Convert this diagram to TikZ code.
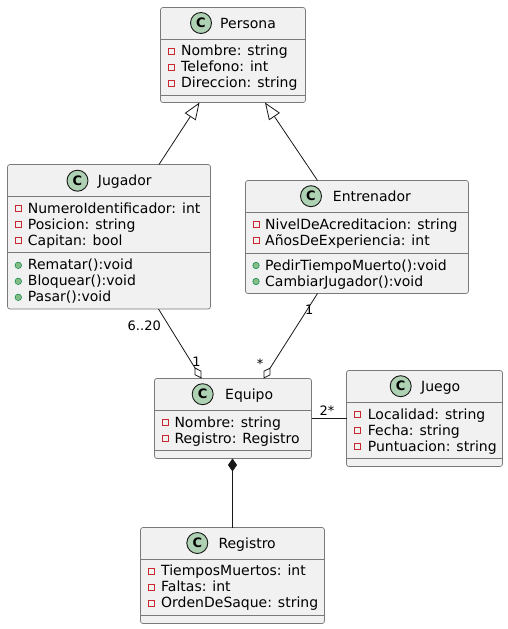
\documentclass[tikz,border=0pt]{standalone}
\usepackage{fontspec}
\setmainfont{DejaVu Sans}
\usetikzlibrary{arrows.meta}
\definecolor{boxfill}{HTML}{F1F1F1}
\definecolor{boxline}{HTML}{181818}
\definecolor{boxedge}{HTML}{7A7A7A}
\definecolor{cfill}{HTML}{ADD1B2}
\definecolor{privred}{HTML}{C82930}
\definecolor{pubfill}{HTML}{84BE84}
\definecolor{publine}{HTML}{038048}
\begin{document}
\begin{tikzpicture}[x=1pt,y=-1pt,
 cls/.style={draw=boxedge, fill=boxfill, line width=0.7pt, rounded corners=2.5pt, anchor=north west, inner sep=0pt, outer sep=0pt},
 sep/.style={draw=boxedge, line width=0.7pt},
 ctitle/.style={anchor=base west, inner sep=0pt, font=\fontsize{14}{16}\selectfont},
 mem/.style={anchor=base west, inner sep=0pt, font=\fontsize{14}{16}\selectfont},
 cicon/.style={circle, draw=boxline, fill=cfill, line width=0.9pt, minimum size=21pt, inner sep=0pt, font=\fontsize{13}{13}\selectfont\bfseries},
 priv/.style={rectangle, draw=privred, line width=0.8pt, minimum size=6pt, inner sep=0pt},
 pub/.style={circle, draw=publine, fill=pubfill, line width=0.5pt, minimum size=6.5pt, inner sep=0pt},
 edge/.style={draw=boxline, line width=0.8pt},
 lbl/.style={anchor=base, inner sep=0pt, font=\fontsize{13}{13}\selectfont}
]
\fill[white] (0,0) rectangle (508,629);
\useasboundingbox (0,0) rectangle (508,629);

% Persona
\node[cls, minimum width=145pt, minimum height=95pt] (persona) at (160.5,7.5) {};
\draw[sep] (160.5,39.5) -- (305.5,39.5);
\draw[sep] (160.5,95.5) -- (305.5,95.5);
\node[cicon] (persona-c) at (201,23) {C};
\node[ctitle] (persona-t) at (220,28) {Persona};
\node[priv] (persona-i1) at (171.5,51.3) {};
\node[mem] (persona-m1) at (181,55.8) {Nombre: string};
\node[priv] (persona-i2) at (171.5,67.3) {};
\node[mem] (persona-m2) at (181,71.8) {Telefono: int};
\node[priv] (persona-i3) at (171.5,83.3) {};
\node[mem] (persona-m3) at (181,87.8) {Direccion: string};

% Jugador
\node[cls, minimum width=203pt, minimum height=144.5pt] (jugador) at (7.5,164.5) {};
\draw[sep] (7.5,196) -- (210.5,196);
\draw[sep] (7.5,252.5) -- (210.5,252.5);
\node[cicon] (jugador-c) at (77.5,180.7) {C};
\node[ctitle] (jugador-t) at (97.7,185.7) {Jugador};
\node[priv] (jugador-i1) at (18.3,208.8) {};
\node[mem] (jugador-m1) at (27.7,213.3) {NumeroIdentificador: int};
\node[priv] (jugador-i2) at (18.3,224.8) {};
\node[mem] (jugador-m2) at (27.7,229.3) {Posicion: string};
\node[priv] (jugador-i3) at (18.3,240.8) {};
\node[mem] (jugador-m3) at (27.7,245.3) {Capitan: bool};
\node[pub] (jugador-i4) at (18.3,265.3) {};
\node[mem] (jugador-m4) at (27.7,269.8) {Rematar():void};
\node[pub] (jugador-i5) at (18.3,281.3) {};
\node[mem] (jugador-m5) at (27.7,285.8) {Bloquear():void};
\node[pub] (jugador-i6) at (18.3,297.3) {};
\node[mem] (jugador-m6) at (27.7,301.8) {Pasar():void};

% Entrenador
\node[cls, minimum width=223pt, minimum height=113pt] (entrenador) at (245.5,180.5) {};
\draw[sep] (245.5,212.5) -- (468.5,212.5);
\draw[sep] (245.5,253.5) -- (468.5,253.5);
\node[cicon] (entrenador-c) at (311,196.2) {C};
\node[ctitle] (entrenador-t) at (332.7,201.2) {Entrenador};
\node[priv] (entrenador-i1) at (256,224.5) {};
\node[mem] (entrenador-m1) at (265,229) {NivelDeAcreditacion: string};
\node[priv] (entrenador-i2) at (256,240.5) {};
\node[mem] (entrenador-m2) at (265,245) {AñosDeExperiencia: int};
\node[pub] (entrenador-i3) at (256,265.5) {};
\node[mem] (entrenador-m3) at (265,270) {PedirTiempoMuerto():void};
\node[pub] (entrenador-i4) at (256,281.5) {};
\node[mem] (entrenador-m4) at (265,286) {CambiarJugador():void};

% Equipo
\node[cls, minimum width=157pt, minimum height=80pt] (equipo) at (154.5,378.5) {};
\draw[sep] (154.5,410.5) -- (311.5,410.5);
\draw[sep] (154.5,450.5) -- (311.5,450.5);
\node[cicon] (equipo-c) at (202.7,394.2) {C};
\node[ctitle] (equipo-t) at (225,399.2) {Equipo};
\node[priv] (equipo-i1) at (165,422.5) {};
\node[mem] (equipo-m1) at (174.3,427) {Nombre: string};
\node[priv] (equipo-i2) at (165,438.5) {};
\node[mem] (equipo-m2) at (174.3,443) {Registro: Registro};

% Juego
\node[cls, minimum width=156pt, minimum height=96pt] (juego) at (346.5,370.5) {};
\draw[sep] (346.5,402.5) -- (502.5,402.5);
\draw[sep] (346.5,458.5) -- (502.5,458.5);
\node[cicon] (juego-c) at (400.7,386.2) {C};
\node[ctitle] (juego-t) at (421,391.2) {Juego};
\node[priv] (juego-i1) at (357.3,414.5) {};
\node[mem] (juego-m1) at (367.7,419) {Localidad: string};
\node[priv] (juego-i2) at (357.3,430.5) {};
\node[mem] (juego-m2) at (367.7,435) {Fecha: string};
\node[priv] (juego-i3) at (357.3,446.5) {};
\node[mem] (juego-m3) at (367.7,451) {Puntuacion: string};

% Registro
\node[cls, minimum width=184pt, minimum height=96pt] (registro) at (140.5,527.5) {};
\draw[sep] (140.5,559) -- (324.5,559);
\draw[sep] (140.5,615) -- (324.5,615);
\node[cicon] (registro-c) at (197.3,543) {C};
\node[ctitle] (registro-t) at (218.3,548) {Registro};
\node[priv] (registro-i1) at (151.7,571.3) {};
\node[mem] (registro-m1) at (161,575.8) {TiemposMuertos: int};
\node[priv] (registro-i2) at (151.7,587.3) {};
\node[mem] (registro-m2) at (161,591.8) {Faltas: int};
\node[priv] (registro-i3) at (151.7,603.3) {};
\node[mem] (registro-m3) at (161,607.8) {OrdenDeSaque: string};

% Connectors
\draw[edge, -{Triangle[open, length=17pt, width=13pt]}] ([xshift=151.5pt]jugador.north west) -- ([xshift=39pt]persona.south west);
\draw[edge, -{Triangle[open, length=17pt, width=13pt]}] ([xshift=72pt]entrenador.north west) -- ([xshift=104.5pt]persona.south west);
\draw[edge, -{Diamond[open, length=13pt, width=8pt]}] ([xshift=151pt]jugador.south west) -- ([xshift=47pt]equipo.north west);
\draw[edge, -{Diamond[open, length=13pt, width=8pt]}] ([xshift=72pt]entrenador.south west) -- ([xshift=109pt]equipo.north west);
\draw[edge, -{Diamond[length=13pt, width=9pt]}] ([xshift=92pt]registro.north west) -- ([xshift=78pt]equipo.south west);
\draw[edge] (equipo.east) -- (equipo.east -| juego.west);

% Labels
\node[lbl, anchor=base east] (lab-620) at (161,330.5) {6..20};
\node[lbl] (lab-1a) at (196.5,366.3) {1};
\node[lbl] (lab-1b) at (309.3,314.5) {1};
\node[lbl] (lab-star) at (260,368.5) {*};
\node[lbl] (lab-2star) at (327,415.3) {2*};
\end{tikzpicture}
\end{document}
